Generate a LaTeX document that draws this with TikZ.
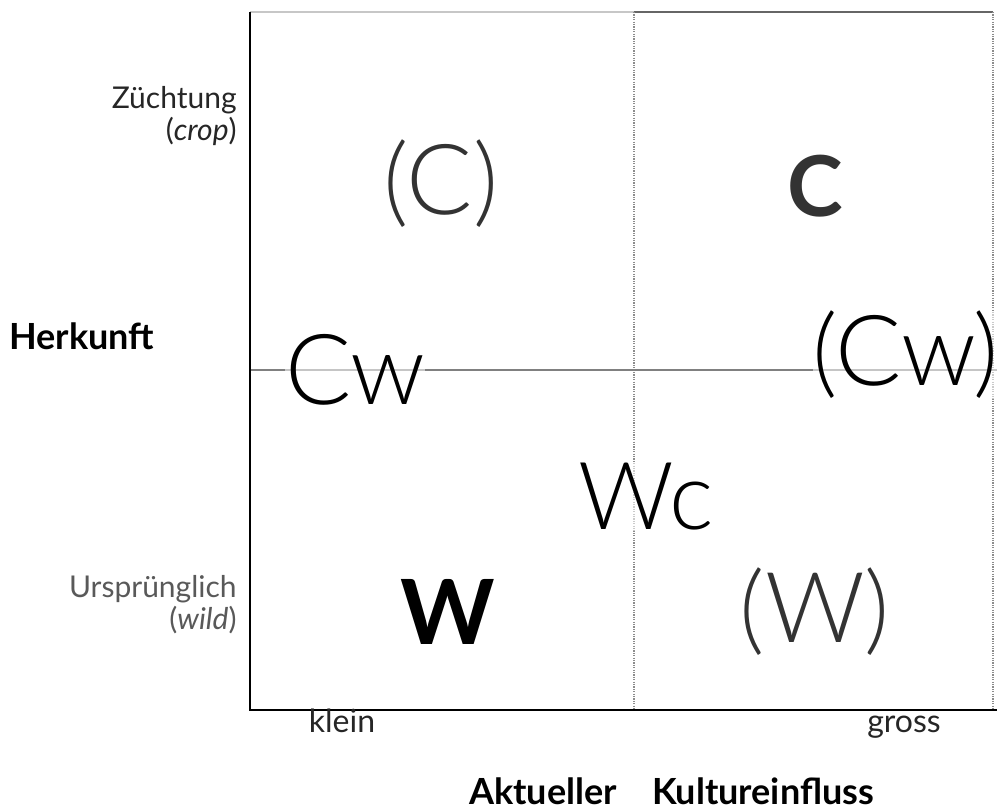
\documentclass[tikz,border=0pt]{standalone}
\usepackage{fontspec}
\setmainfont{Lato}
\newfontfamily\lightfont{Lato Light}
\begin{document}
\begin{tikzpicture}[x=0.5pt,y=-0.5pt,
  axisline/.style={line width=1.3pt,black},
  gridline/.style={line width=0.8pt,draw=black!50},
  dotline/.style={line width=0.9pt,draw=black!45,dash pattern=on 0.6pt off 0.6pt},
  big/.style={font=\lightfont\fontsize{49pt}{49pt}\selectfont,inner sep=0pt,fill=white,fill opacity=0.55,text opacity=1},
  bigbold/.style={font=\bfseries\fontsize{45pt}{45pt}\selectfont,inner sep=0pt},
  ylab/.style={font=\fontsize{15pt}{16pt}\selectfont,align=right,anchor=east,inner sep=0pt},
  xlab/.style={font=\fontsize{16pt}{18pt}\selectfont,anchor=base,text=black!85},
  title/.style={font=\bfseries\fontsize{18pt}{20pt}\selectfont,anchor=base,inner sep=0pt}]
\useasboundingbox (0,0) rectangle (997,812);

% frame corners
\coordinate (tl) at (250,12);
\coordinate (tm) at (634,12);
\coordinate (tr) at (993,12);
\coordinate (bl) at (250,710);
\coordinate (bm) at (634,710);
\coordinate (br) at (993,710);
\coordinate (bend) at (997,710);
\coordinate (ml) at (250,370);
\coordinate (mr) at (997,370);

% grid
\draw[line width=0.8pt,black!22] (tl) -- (tm);
\draw[line width=0.8pt,black!60] (tm) -- (tr);
\draw[dotline] (tm) -- (bm);
\draw[dotline] (tr) -- (br);
\draw[gridline] (ml) -- (mr);

% quadrant labels
\node[big,text=black!80] (cp) at (441,184) {(C)};
\node[bigbold,text=black!80,font=\bfseries\fontsize{42pt}{42pt}\selectfont] (cc) at (815,186) {C};
\node[big] (cw) at (355,370) {Cw};
\node[big] (cwp) at (906,355) {(Cw)};
\node[big,font=\lightfont\fontsize{47pt}{47pt}\selectfont] (wc) at (646,497) {Wc};
\node[bigbold] (ww) at (448,612) {W};
\node[big,text=black!80] (wp) at (815,612) {(W)};

% axes
\draw[axisline] (tl) -- (bl) -- (bend);

% axis labels
\node[ylab,text=black!85] (zu) at (237,116) {Züchtung\\(\textit{crop})};
\node[ylab,text=black!65] (ur) at (237,605) {Ursprünglich\\(\textit{wild})};
\node[title,anchor=west] (hk) at (9,336) {Herkunft};
\node[xlab] (kl) at (342,733) {klein};
\node[xlab] (gr) at (904,733) {gross};
\node[title] (ak) at (543,805) {Aktueller};
\node[title] (ku) at (763,805) {Kultureinfluss};
\end{tikzpicture}
\end{document}
